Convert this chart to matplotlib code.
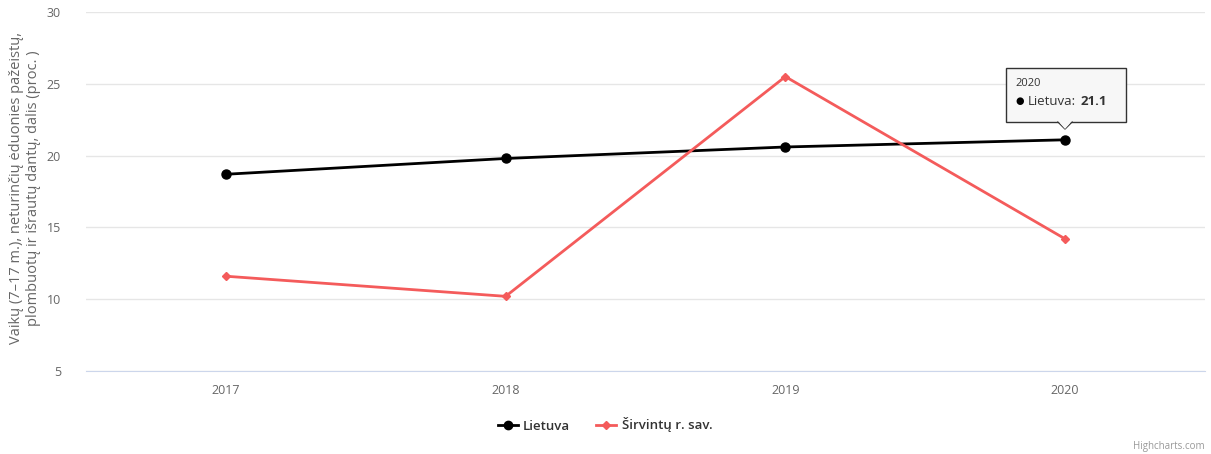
import matplotlib.pyplot as plt
from matplotlib.lines import Line2D
from matplotlib.patches import Polygon

plt.rcParams['font.family'] = ['Open Sans', 'DejaVu Sans']

metai = ["2017", "2018", "2019", "2020"]
lietuva = [18.7, 19.8, 20.6, 21.1]
sirvintu = [11.6, 10.2, 25.5, 14.2]
y_ticks = [5, 10, 15, 20, 25, 30]

fig = plt.figure(figsize=(12.11, 4.54), dpi=100)
W, H = 1211, 454
ax = fig.add_axes([86 / W, 1 - 371 / H, (1205 - 86) / W, (371 - 12) / H])

x = range(len(metai))
ax.plot(x, lietuva, color="black", lw=2, marker="o", ms=6.5, zorder=3)
ax.plot(x, sirvintu, color="#f45b5b", lw=2, marker="D", ms=4.5, zorder=3)

ax.set_xlim(-0.5, len(metai) - 0.5)
ax.set_ylim(5, 30)
ax.set_yticks(y_ticks)
ax.set_xticks(list(x))
ax.set_xticklabels(metai)
ax.grid(axis="y", color="#e6e6e6", lw=1)
ax.set_axisbelow(True)
for s in ["top", "right", "left"]:
    ax.spines[s].set_visible(False)
ax.spines["bottom"].set_color("#ccd6eb")
ax.tick_params(axis="both", length=0, labelsize=9, colors="#666666")
ax.tick_params(axis="y", pad=18)
ax.tick_params(axis="x", pad=9)

fig.text(25 / W, 1 - 188 / H,
         "Vaikų (7–17 m.), neturinčių ėduonies pažeistų,\nplombuotų ir išrautų dantų, dalis (proc. )",
         rotation=90, ha="center", va="center", fontsize=10.5, color="#666666",
         linespacing=1.2)

# tooltip
px = lambda a, b: (a / W, 1 - b / H)
box = plt.Rectangle(px(1006, 122), 120 / W, 54 / H, transform=fig.transFigure,
                    facecolor="#f7f7f7", edgecolor="#333333", lw=1, zorder=5)
fig.patches.append(box)
tri = Polygon([px(1058, 121), px(1072, 121), px(1065, 129)], closed=True,
              transform=fig.transFigure, facecolor="#f7f7f7", edgecolor="none", zorder=6)
fig.patches.append(tri)
edge = Line2D([1058 / W, 1065 / W, 1072 / W], [1 - 122 / H, 1 - 129 / H, 1 - 122 / H],
              transform=fig.transFigure, color="#333333", lw=1, zorder=6)
fig.lines.append(edge)
fig.text(1015 / W, 1 - 83 / H, "2020", fontsize=8, color="#333333", va="center", zorder=7)
fig.text(1015 / W, 1 - 101 / H, "●", fontsize=7, color="black", va="center", zorder=7)
fig.text(1028 / W, 1 - 101 / H, "Lietuva:", fontsize=9.5, color="#333333", va="center", zorder=7)
fig.text(1081 / W, 1 - 101 / H, "21.1", fontsize=9.5, color="#333333", weight="bold",
         va="center", zorder=7)

handles = [
    Line2D([], [], color="black", lw=2, marker="o", ms=6),
    Line2D([], [], color="#f45b5b", lw=2, marker="D", ms=4),
]
fig.legend(handles, ["Lietuva", "Širvintų r. sav."], loc="center",
           bbox_to_anchor=(605 / W, 1 - 425 / H), ncol=2, frameon=False,
           fontsize=9.5, handlelength=1.5, columnspacing=2, handletextpad=0.4,
           labelcolor="#333333", prop={"weight": "semibold", "size": 9.5})

fig.text(1205 / W, 1 - 447 / H, "Highcharts.com", ha="right", va="center",
         fontsize=7, color="#999999")

plt.savefig("out.png", dpi=100)
